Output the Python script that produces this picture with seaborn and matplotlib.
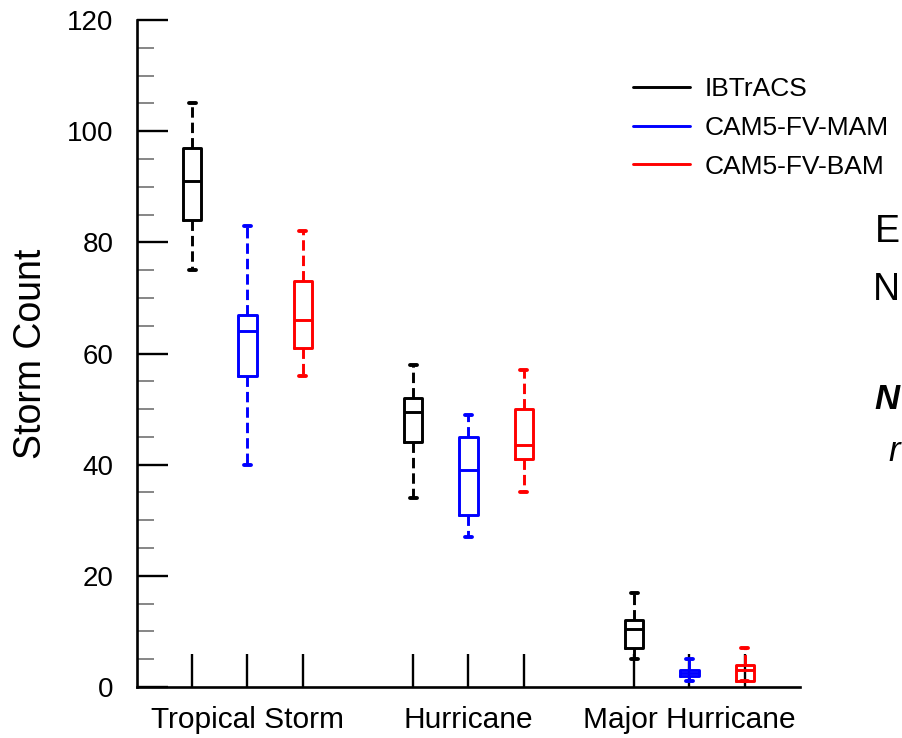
"""
Storm count box plots: IBTrACS vs CAM5-FV-MAM vs CAM5-FV-BAM
"""

import seaborn as sns
import matplotlib.pyplot as plt
from matplotlib.lines import Line2D
from matplotlib.ticker import MultipleLocator

# ─── DATA ────────────────────────────────────────────────────────────────────
categories = ["Tropical Storm", "Hurricane", "Major Hurricane"]
datasets   = ["IBTrACS", "CAM5-FV-MAM", "CAM5-FV-BAM"]
colors     = ["black", "#0000FF", "#FF0000"]

ibtracs_whislo = [75, 34, 5]
ibtracs_q1     = [84, 44, 7]
ibtracs_med    = [91, 49.5, 10.5]
ibtracs_q3     = [97, 52, 12]
ibtracs_whishi = [105, 58, 17]

mam_whislo = [40, 27, 1]
mam_q1     = [56, 31, 2]
mam_med    = [64, 39, 2.5]
mam_q3     = [67, 45, 3]
mam_whishi = [83, 49, 5]

bam_whislo = [56, 35, 1]
bam_q1     = [61, 41, 1]
bam_med    = [66, 43.5, 3]
bam_q3     = [73, 50, 4]
bam_whishi = [82, 57, 7]

y_ticks = [0, 20, 40, 60, 80, 100, 120]

series = [
    (ibtracs_whislo, ibtracs_q1, ibtracs_med, ibtracs_q3, ibtracs_whishi),
    (mam_whislo, mam_q1, mam_med, mam_q3, mam_whishi),
    (bam_whislo, bam_q1, bam_med, bam_q3, bam_whishi),
]

# ─── STYLE ───────────────────────────────────────────────────────────────────
sns.set_theme(style="ticks")
plt.rcParams["font.family"] = ["Liberation Sans", "DejaVu Sans"]
plt.rcParams["text.color"] = "black"
plt.rcParams["lines.scale_dashes"] = False

OFFSETS = [-0.25, 0.0, 0.25]
LW = 2.1

fig = plt.figure(figsize=(9.02, 7.38), dpi=100)
ax = fig.add_axes([137 / 902, 51 / 738, 663 / 902, 667 / 738])

all_pos = []
for k, (lo, q1, med, q3, hi) in enumerate(series):
    c = colors[k]
    stats = [
        dict(whislo=lo[i], q1=q1[i], med=med[i], q3=q3[i], whishi=hi[i], fliers=[])
        for i in range(len(categories))
    ]
    pos = [i + OFFSETS[k] for i in range(len(categories))]
    all_pos += pos
    ax.bxp(stats, positions=pos, widths=0.082, capwidths=0.032,
           showfliers=False, manage_ticks=False,
           boxprops=dict(color=c, lw=LW),
           medianprops=dict(color=c, lw=LW),
           whiskerprops=dict(color=c, lw=LW, linestyle=(0, (7.5, 3.6))),
           capprops=dict(color=c, lw=2.8))

ax.set_xlim(-0.5, 2.5)
ax.set_ylim(0, 120)
ax.set_yticks(y_ticks)
ax.yaxis.set_minor_locator(MultipleLocator(5))
ax.xaxis.remove_overlapping_locs = False
ax.set_xticks(sorted(all_pos), labels=[""] * len(all_pos))
ax.set_xticks(range(len(categories)), labels=categories, minor=True)

ax.tick_params(axis="y", which="major", direction="in", length=22, width=1.7,
               labelsize=20, pad=17, colors="black")
ax.tick_params(axis="y", which="minor", direction="in", length=12, width=1.1,
               color="0.4")
ax.tick_params(axis="x", which="major", direction="in", length=24, width=1.7,
               color="black")
ax.tick_params(axis="x", which="minor", length=0, labelsize=21.5, pad=14,
               labelcolor="black")

for side in ["top", "right"]:
    ax.spines[side].set_visible(False)
for side in ["left", "bottom"]:
    ax.spines[side].set_linewidth(1.9)
    ax.spines[side].set_color("black")

ax.set_ylabel("Storm Count", fontsize=27, labelpad=13, color="black")

# ─── LEGEND ──────────────────────────────────────────────────────────────────
handles = [Line2D([], [], color=c, lw=LW) for c in colors]
fig.legend(handles, datasets, loc="upper left",
           bbox_to_anchor=(633 / 902, 0.895), frameon=False, fontsize=19,
           handlelength=2.16, handletextpad=0.57, labelspacing=0.55,
           borderpad=0, borderaxespad=0, labelcolor="black")

# ─── slide text fragments at right edge ──────────────────────────────────────
frag_font = ["Liberation Sans Narrow", "Liberation Sans", "DejaVu Sans"]
fig.text(900 / 902, 1 - 242 / 738, "E", fontsize=27, family=frag_font, ha="right")
fig.text(900 / 902, 1 - 300 / 738, "N", fontsize=27, family=frag_font, ha="right")
fig.text(900 / 902, 1 - 409 / 738, "N", fontsize=25, family=frag_font,
         fontweight="bold", fontstyle="italic", ha="right")
fig.text(900 / 902, 1 - 461 / 738, "r", fontsize=25, family=frag_font,
         fontstyle="italic", ha="right")

fig.savefig("out.png", dpi=100)
